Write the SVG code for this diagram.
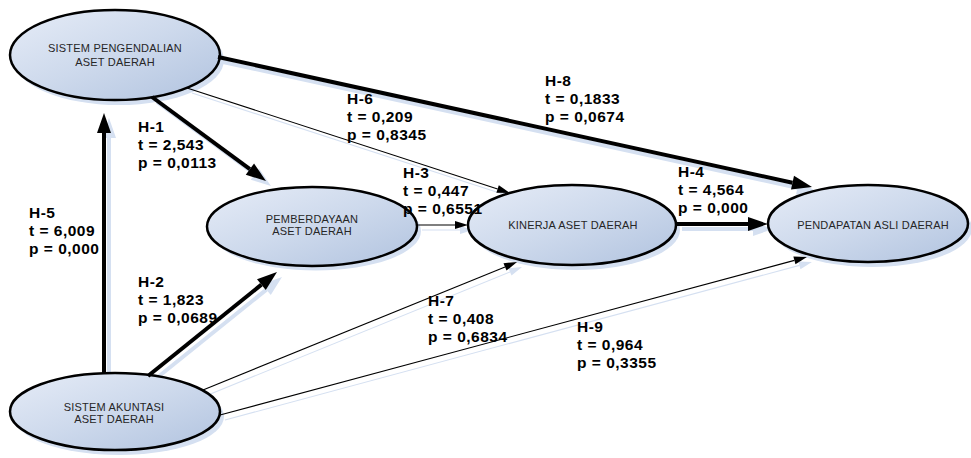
<svg xmlns="http://www.w3.org/2000/svg" width="971" height="458" viewBox="0 0 971 458">
<defs>
<linearGradient id="fillGrad" x1="0" y1="0" x2="1" y2="1">
<stop offset="0" stop-color="#e6ecf7"/>
<stop offset="0.5" stop-color="#cdd9ec"/>
<stop offset="1" stop-color="#b1c3df"/>
</linearGradient>
<marker id="ahBig" markerUnits="userSpaceOnUse" markerWidth="22" markerHeight="16" refX="0" refY="7" orient="auto" overflow="visible">
<path d="M0,0 L20,7 L0,14 z" fill="#000"/>
</marker>
<marker id="ahSmall" markerUnits="userSpaceOnUse" markerWidth="14" markerHeight="10" refX="0" refY="4" orient="auto" overflow="visible">
<path d="M0,0 L13,4 L0,8 z" fill="#000"/>
</marker>
<marker id="shBig" markerUnits="userSpaceOnUse" markerWidth="22" markerHeight="16" refX="0" refY="7" orient="auto" overflow="visible">
<path d="M0,0 L20,7 L0,14 z" fill="#d5e0f1"/>
</marker>
<marker id="shSmall" markerUnits="userSpaceOnUse" markerWidth="14" markerHeight="10" refX="0" refY="4" orient="auto" overflow="visible">
<path d="M0,0 L13,4 L0,8 z" fill="#d5e0f1"/>
</marker>
</defs>
<style>
.shadow{fill:#d5e0f1;stroke:none}
.node{fill:url(#fillGrad);stroke:#000;stroke-width:2.5}
.ntext{font-family:"Liberation Sans",Arial,sans-serif;font-size:11px;fill:#262626;text-anchor:middle;letter-spacing:0.2px}
.thick{stroke:#000;stroke-width:4;fill:none;marker-end:url(#ahBig)}
.thin{stroke:#000;stroke-width:1.1;fill:none;marker-end:url(#ahSmall)}
.sthick{stroke:#d5e0f1;stroke-width:4;fill:none;marker-end:url(#shBig)}
.sthin{stroke:#d5e0f1;stroke-width:1.1;fill:none;marker-end:url(#shSmall)}
.lbl{font-family:"Liberation Sans",Arial,sans-serif;font-size:15.5px;font-weight:bold;fill:#000;letter-spacing:0.5px}
</style>
<rect width="971" height="458" fill="#fff"/>

<g id="connector-shadows" transform="translate(5,5)">
<line class="sthick" x1="104" y1="376" x2="104" y2="133"/>
<line class="sthick" x1="152" y1="97" x2="249.9" y2="169.1"/>
<line class="sthick" x1="148" y1="376" x2="261.4" y2="284.6"/>
<line class="sthin" x1="417" y1="225" x2="455" y2="225"/>
<line class="sthick" x1="677" y1="224" x2="748" y2="224"/>
<line class="sthin" x1="187" y1="88" x2="497.6" y2="189"/>
<line class="sthin" x1="203" y1="390" x2="505" y2="266.9"/>
<line class="sthick" x1="218" y1="57" x2="792.5" y2="182.7"/>
<line class="sthin" x1="220" y1="415" x2="794.4" y2="260.4"/>
</g>

<g id="node-spad">
<ellipse class="shadow" cx="119" cy="60" rx="105" ry="45"/>
<ellipse class="node" cx="115" cy="55" rx="105" ry="45"/>
<text class="ntext" x="115" y="52">SISTEM PENGENDALIAN</text>
<text class="ntext" x="115" y="66">ASET DAERAH</text>
</g>
<g id="node-pemberdayaan">
<ellipse class="shadow" cx="316" cy="231" rx="105" ry="39.5"/>
<ellipse class="node" cx="312" cy="226.5" rx="105" ry="39.5"/>
<text class="ntext" x="312" y="223">PEMBERDAYAAN</text>
<text class="ntext" x="312" y="235">ASET DAERAH</text>
</g>
<g id="node-kinerja">
<ellipse class="shadow" cx="576" cy="230" rx="104" ry="40"/>
<ellipse class="node" cx="572" cy="225" rx="104" ry="40"/>
<text class="ntext" x="573" y="229">KINERJA ASET DAERAH</text>
</g>
<g id="node-pad">
<ellipse class="shadow" cx="872" cy="228.5" rx="100" ry="38.5"/>
<ellipse class="node" cx="868" cy="223.5" rx="100" ry="38.5"/>
<text class="ntext" x="873" y="229">PENDAPATAN ASLI DAERAH</text>
</g>
<g id="node-saad">
<ellipse class="shadow" cx="119" cy="416.5" rx="105" ry="38.5"/>
<ellipse class="node" cx="115" cy="411.5" rx="105" ry="38.5"/>
<text class="ntext" x="114" y="411">SISTEM AKUNTASI</text>
<text class="ntext" x="114" y="423">ASET DAERAH</text>
</g>

<g id="connectors">
<line class="thick" x1="104" y1="374" x2="104" y2="133"/>
<line class="thick" x1="152" y1="97" x2="249.9" y2="169.1"/>
<line class="thick" x1="148" y1="376" x2="261.4" y2="284.6"/>
<line class="thin" x1="417" y1="225" x2="455" y2="225"/>
<line class="thick" x1="677" y1="224" x2="748" y2="224"/>
<line class="thin" x1="187" y1="88" x2="497.6" y2="189"/>
<line class="thin" x1="203" y1="390" x2="505" y2="266.9"/>
<line class="thick" x1="218" y1="57" x2="792.5" y2="182.7"/>
<line class="thin" x1="220" y1="415" x2="794.4" y2="260.4"/>
</g>

<g id="labels">
<g id="label-h1"><text class="lbl" x="138" y="132">H-1</text><text class="lbl" x="138" y="150">t = 2,543</text><text class="lbl" x="138" y="168">p = 0,0113</text></g>
<g id="label-h2"><text class="lbl" x="138" y="287">H-2</text><text class="lbl" x="138" y="305">t = 1,823</text><text class="lbl" x="138" y="323">p = 0,0689</text></g>
<g id="label-h3"><text class="lbl" x="403" y="178">H-3</text><text class="lbl" x="403" y="196">t = 0,447</text><text class="lbl" x="403" y="214">p = 0,6551</text></g>
<g id="label-h4"><text class="lbl" x="678" y="177">H-4</text><text class="lbl" x="678" y="195">t = 4,564</text><text class="lbl" x="678" y="213">p = 0,000</text></g>
<g id="label-h5"><text class="lbl" x="29" y="218">H-5</text><text class="lbl" x="29" y="236">t = 6,009</text><text class="lbl" x="29" y="254">p = 0,000</text></g>
<g id="label-h6"><text class="lbl" x="347" y="104">H-6</text><text class="lbl" x="347" y="122">t = 0,209</text><text class="lbl" x="347" y="140">p = 0,8345</text></g>
<g id="label-h7"><text class="lbl" x="428" y="306">H-7</text><text class="lbl" x="428" y="324">t = 0,408</text><text class="lbl" x="428" y="342">p = 0,6834</text></g>
<g id="label-h8"><text class="lbl" x="545" y="86">H-8</text><text class="lbl" x="545" y="104">t = 0,1833</text><text class="lbl" x="545" y="122">p = 0,0674</text></g>
<g id="label-h9"><text class="lbl" x="577" y="332">H-9</text><text class="lbl" x="577" y="350">t = 0,964</text><text class="lbl" x="577" y="368">p = 0,3355</text></g>
</g>
</svg>
